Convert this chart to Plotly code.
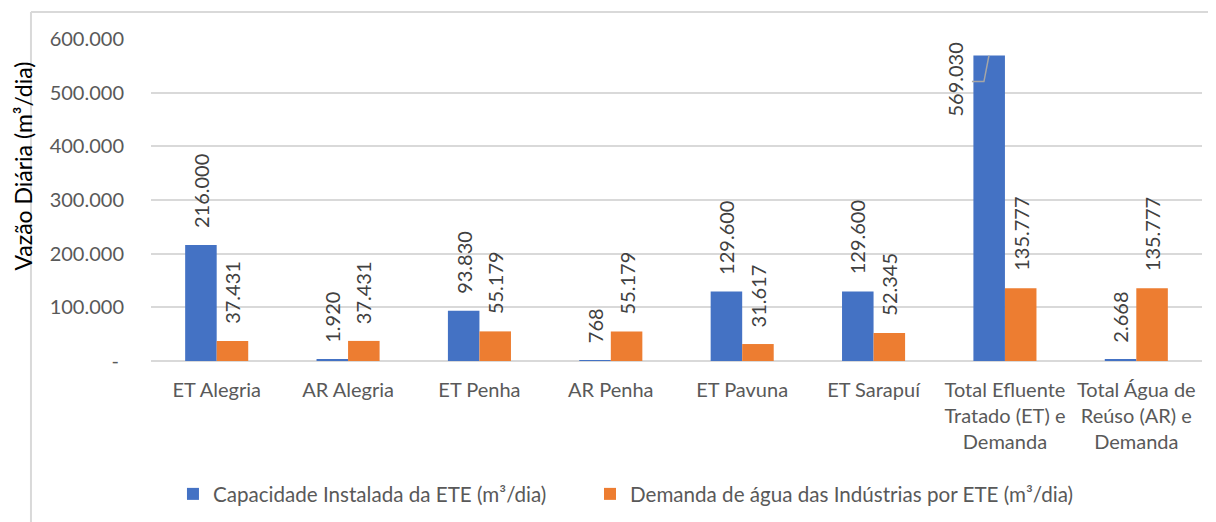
import plotly.graph_objects as go

categories = [
    "ET Alegria", "AR Alegria", "ET Penha", "AR Penha", "ET Pavuna", "ET Sarapuí",
    "Total Efluente<br>Tratado (ET) e<br>Demanda",
    "Total Água de<br>Reúso (AR) e<br>Demanda",
]
capacidade = [216000, 1920, 93830, 768, 129600, 129600, 569030, 2668]
demanda = [37431, 37431, 55179, 55179, 31617, 52345, 135777, 135777]
series_names = ["Capacidade Instalada da ETE (m³/dia)",
                "Demanda de água das Indústrias por ETE (m³/dia)"]
y_ticks = [0, 100000, 200000, 300000, 400000, 500000, 600000]
y_ticktext = ["-&nbsp;", "100.000", "200.000", "300.000", "400.000", "500.000", "600.000"]

BLUE = "#4472C4"
ORANGE = "#ED7D31"
FONT = "Lato"
GRAY = "#595959"
LABEL = "#404040"
FS = 20


def fmt(v):
    return f"{v:,}".replace(",", ".")


fig = go.Figure()
fig.add_trace(go.Bar(x=categories, y=capacidade, name=series_names[0], marker_color=BLUE,
                     marker_line_width=0, legend="legend"))
fig.add_trace(go.Bar(x=categories, y=demanda, name=series_names[1], marker_color=ORANGE,
                     marker_line_width=0, legend="legend2"))

annotations = []
shift = 15.75
moved = 6  # index of the label moved aside with a leader line
lab_font = dict(family=FONT, size=FS, color=LABEL)
for i, v in enumerate(capacidade):
    if i == moved:
        annotations.append(dict(x=i, y=v, xref="x", yref="y", text=fmt(v), showarrow=False,
                                textangle=-90, xshift=-50, yshift=-24, yanchor="middle",
                                xanchor="center", font=lab_font))
    else:
        annotations.append(dict(x=i, y=v, xref="x", yref="y", text=fmt(v), showarrow=False,
                                textangle=-90, xshift=-shift, yshift=15, yanchor="bottom",
                                xanchor="center", font=lab_font))
for i, v in enumerate(demanda):
    annotations.append(dict(x=i, y=v, xref="x", yref="y", text=fmt(v), showarrow=False,
                            textangle=-90, xshift=shift, yshift=15, yanchor="bottom",
                            xanchor="center", font=lab_font))

annotations.append(dict(x=-0.1227, y=0.604, xref="paper", yref="paper",
                        xanchor="center", yanchor="middle",
                        text="Vazão Diária (m³/dia)", showarrow=False, textangle=-90,
                        font=dict(family=FONT, size=23, color="#000000")))

shapes = [
    # leader line for moved label
    dict(type="path", xref="x", yref="y", xsizemode="pixel", ysizemode="pixel",
         xanchor=moved, yanchor=capacidade[moved],
         path="M-33,-26 L-21,-26 L-16,0", line=dict(color="#a6a6a6", width=1.5)),
    # chart area frame (left and top edges)
    dict(type="line", xref="paper", yref="paper", x0=-0.1142, x1=-0.1142, y0=-1.0, y1=1.0839,
         line=dict(color="#d9d9d9", width=2)),
    dict(type="line", xref="paper", yref="paper", x0=-0.1142, x1=1.2, y0=1.0839, y1=1.0839,
         line=dict(color="#d9d9d9", width=2)),
]

leg_common = dict(orientation="h", y=-0.413, yanchor="middle", xanchor="left",
                  font=dict(family=FONT, size=20.6, color=GRAY), bgcolor="rgba(0,0,0,0)")

fig.update_layout(
    width=1208, height=514, autosize=False,
    margin=dict(l=143, r=14, t=31, b=161, autoexpand=False),
    paper_bgcolor="white", plot_bgcolor="white",
    barmode="group", bargap=0.52, bargroupgap=0,
    separators=",.",
    font=dict(family=FONT, size=FS, color=GRAY),
    showlegend=True,
    legend=dict(x=0.0209, **leg_common),
    legend2=dict(x=0.4177, **leg_common),
    annotations=annotations,
    shapes=shapes,
)
fig.update_xaxes(showgrid=False, showline=False, ticks="", ticklabelstandoff=15,
                 tickfont=dict(family=FONT, size=FS, color=GRAY), tickangle=0)
fig.update_yaxes(range=[0, 600000], tickvals=y_ticks, ticktext=y_ticktext,
                 showgrid=True, gridcolor="#d9d9d9", gridwidth=1.5,
                 zeroline=True, zerolinecolor="#d9d9d9", zerolinewidth=1.5,
                 showline=False, ticks="", ticklabelstandoff=26,
                 tickfont=dict(family=FONT, size=FS, color=GRAY))

fig.write_html("out.html")
